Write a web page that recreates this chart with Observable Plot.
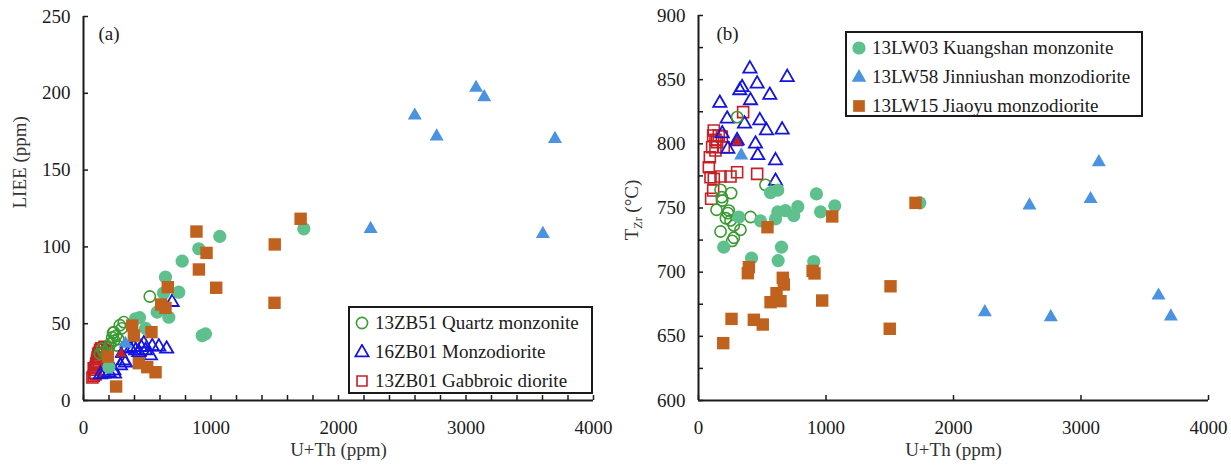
<!DOCTYPE html>
<html><head><meta charset="utf-8">
<script src="https://cdn.jsdelivr.net/npm/d3@7"></script>
<script src="https://cdn.jsdelivr.net/npm/@observablehq/plot@0.6"></script>
<style>
body{margin:0;background:#fff;}
#wrap{position:relative;width:1231px;height:468px;display:flex;}
.legend{position:absolute;border:2px solid #1a1a1a;background:#fff;font-family:"Liberation Serif","Times New Roman",serif;font-size:19px;color:#1a1a1a;box-sizing:border-box;}
.legend .row{display:flex;align-items:center;height:29px;white-space:nowrap;}
.legend svg{margin-left:4px;margin-right:5px;flex:none;}
</style></head><body><div id="wrap"></div>
<script>
// ---------- Panel (a): LIEE vs U+Th ----------
const qmA_x = [520, 316, 285, 238, 225, 240, 146, 159, 264, 128, 199, 300, 255, 180, 210, 272, 232];
const qmA_y = [67.7, 51, 49, 44.5, 41, 39, 33.7, 31.4, 35.8, 30.4, 34.7, 47, 42, 30, 37, 40, 44];
const mdA_x = [695, 652, 591, 539, 525, 473, 452, 434, 369, 395, 486, 329, 290, 316, 238, 199, 159, 133, 243, 409];
const mdA_y = [64, 33.6, 35, 35.2, 29.3, 37, 34.7, 31.4, 33.6, 34.7, 32.6, 24.6, 22.8, 26, 19.5, 18.4, 17.4, 16.9, 17.4, 32.6];
const gdA_x = [70, 80, 85, 90, 95, 100, 105, 110, 115, 120, 130, 140, 150, 165, 185, 95, 80, 120];
const gdA_y = [15, 16, 18, 20, 22, 24, 26, 28, 30, 31, 33, 34, 33, 35, 32, 17, 21, 25];
const kmA_x = [1069, 1728, 904, 774, 643, 747, 627, 578, 669, 408, 931, 957, 199, 440, 487];
const kmA_y = [106.8, 111.8, 98.8, 90.7, 80.3, 70.5, 70, 57.5, 54.2, 53.2, 42.3, 43.4, 21.7, 54, 47];
const orA_x = [1703, 886, 1500, 965, 905, 1041, 661, 1498, 609, 643, 382, 395, 533, 191, 434, 500, 565, 256];
const orA_y = [118.3, 110, 101.6, 96.1, 85.3, 73.4, 73.8, 63.6, 62.5, 60.3, 48.8, 42.3, 44.5, 28.6, 24.3, 21.7, 18.4, 9.1];
const jnA_x = [329, 2252, 2598, 2770, 3079, 3143, 3603, 3698];
const jnA_y = [36.9, 111.7, 185.5, 171.9, 203.6, 197.5, 108.5, 170.3];
const rtA_x = [296];
const rtA_y = [30.4];

// ---------- Panel (b): T_Zr vs U+Th ----------
const qmB_x = [303, 525, 173, 256, 141, 186, 238, 251, 408, 329, 173, 277, 264, 277, 230, 183, 215];
const qmB_y = [820.8, 768, 764.2, 761.6, 748.6, 755.8, 748, 740.3, 743, 733, 731.7, 726.8, 724.4, 736.4, 746, 758.4, 742];
const mdB_x = [403, 696, 460, 342, 324, 559, 408, 167, 225, 361, 481, 533, 656, 186, 447, 230, 465, 604, 604, 303];
const mdB_y = [858.5, 851.9, 846.8, 844, 841.6, 838, 833.8, 831.7, 819.5, 815.6, 818.2, 810.4, 811, 808, 800, 796, 791, 787, 771, 802.6];
const gdB_x = [350, 120, 115, 133, 159, 146, 107, 133, 89, 81, 303, 460, 94, 120, 173, 251, 115, 99, 198, 183];
const gdB_y = [824.7, 810.4, 806.5, 803.1, 806.5, 801.3, 797.4, 794.8, 789.6, 781.8, 777.9, 776.6, 774, 772.7, 774.5, 774.5, 763.6, 757.2, 797.4, 805.7];
const kmB_x = [925, 1069, 957, 779, 747, 682, 622, 604, 565, 622, 486, 316, 198, 416, 651, 625, 904, 1736];
const kmB_y = [761, 751.7, 747, 751, 744, 748, 747, 741.5, 762, 764, 740, 743, 719.5, 711, 719.5, 709, 708.3, 754];
const orB_x = [1702, 1049, 541, 395, 387, 895, 910, 661, 669, 612, 565, 643, 1506, 970, 259, 434, 504, 1500, 194];
const orB_y = [754, 743.4, 735, 703.9, 699.2, 701, 699, 695.6, 690.4, 683.6, 676.6, 677.4, 689, 677.9, 663.6, 662.9, 659.2, 655.9, 644.7];
const jnB_x = [335, 2246, 2596, 2763, 3075, 3140, 3608, 3705];
const jnB_y = [791, 668.8, 752, 665, 757, 785.7, 681.8, 665.5];
const rtB_x = [303];
const rtB_y = [801.3];

// ---------- series & ticks ----------
const legendA = ["13ZB51 Quartz monzonite", "16ZB01 Monzodiorite", "13ZB01 Gabbroic diorite"];
const legendB = ["13LW03 Kuangshan monzonite", "13LW58 Jinniushan monzodiorite", "13LW15 Jiaoyu monzodiorite"];
const xTicksA = d3.range(0, 4001, 200);
const xTicksB = [0, 1000, 2000, 3000, 4000];
const yTicksA = [0, 50, 100, 150, 200, 250];
const yTicksB = d3.range(600, 901, 25);

const C = {qm: "#3b9a33", md: "#1414e0", gd: "#c81e22", km: "#5ec18d", jn: "#4b93e0", or: "#c0611d"};
const font = '"Liberation Serif","Times New Roman",serif';
const pts = (xs, ys) => xs.map((x, i) => ({x, y: ys[i]}));

function dots(s) {
  return [
    Plot.dot(pts(s.gd[0], s.gd[1]), {x: "x", y: "y", symbol: "square", r: 6.2, fill: "none", stroke: C.gd, strokeWidth: 1.6}),
    Plot.dot(pts(s.md[0], s.md[1]), {x: "x", y: "y", symbol: "triangle", r: 4.9, fill: "none", stroke: C.md, strokeWidth: 1.8}),
    Plot.dot(pts(s.qm[0], s.qm[1]), {x: "x", y: "y", symbol: "circle", r: 5.6, fill: "none", stroke: C.qm, strokeWidth: 1.6}),
    Plot.dot(pts(s.km[0], s.km[1]), {x: "x", y: "y", symbol: "circle", r: 6.6, fill: C.km}),
    Plot.dot(pts(s.or[0], s.or[1]), {x: "x", y: "y", symbol: "square", r: 7, fill: C.or}),
    Plot.dot(pts(s.jn[0], s.jn[1]), {x: "x", y: "y", symbol: "triangle", r: 5.2, fill: C.jn}),
    Plot.dot(pts(s.rt[0], s.rt[1]), {x: "x", y: "y", symbol: "triangle", r: 4.6, fill: C.gd, stroke: C.md, strokeWidth: 1})
  ];
}

const style = {fontFamily: font, fontSize: "19px", color: "#1a1a1a", background: "transparent", overflow: "visible"};

const plotA = Plot.plot({
  width: 615, height: 468, marginLeft: 83, marginRight: 22, marginTop: 16, marginBottom: 68,
  style,
  x: {domain: [0, 4000]},
  y: {domain: [0, 250]},
  marks: [
    Plot.axisX({ticks: xTicksA, tickSize: -5, tickPadding: 25, tickFormat: d => d % 1000 === 0 ? String(d) : "", label: null, strokeWidth: 1.5}),
    Plot.axisY({ticks: yTicksA, tickSize: -5, tickPadding: 18, tickFormat: d => String(d), label: null, strokeWidth: 1.5}),
    ...dots({qm: [qmA_x, qmA_y], md: [mdA_x, mdA_y], gd: [gdA_x, gdA_y], km: [kmA_x, kmA_y], or: [orA_x, orA_y], jn: [jnA_x, jnA_y], rt: [rtA_x, rtA_y]}),
    Plot.ruleX([0], {strokeWidth: 2, stroke: "#1a1a1a"}),
    Plot.ruleY([0], {strokeWidth: 2, stroke: "#1a1a1a"}),
    Plot.text(["U+Th (ppm)"], {text: d => d, frameAnchor: "bottom", dy: 55, fill: "#333"}),
    Plot.text(["LIEE (ppm)"], {text: d => d, frameAnchor: "left", dx: -64, rotate: -90, fill: "#333"}),
    Plot.text(["(a)"], {text: d => d, frameAnchor: "top-left", dx: 15, dy: 17, textAnchor: "start", lineAnchor: "middle"})
  ]
});

const plotB = Plot.plot({
  width: 616, height: 468, marginLeft: 83, marginRight: 23, marginTop: 15, marginBottom: 68,
  style,
  x: {domain: [0, 4000]},
  y: {domain: [600, 900]},
  marks: [
    Plot.axisX({ticks: xTicksB, tickSize: -5, tickPadding: 25, tickFormat: d => String(d), label: null, strokeWidth: 1.5}),
    Plot.axisY({ticks: yTicksB, tickSize: -5, tickPadding: 18, tickFormat: d => d % 50 === 0 ? String(d) : "", label: null, strokeWidth: 1.5}),
    ...dots({qm: [qmB_x, qmB_y], md: [mdB_x, mdB_y], gd: [gdB_x, gdB_y], km: [kmB_x, kmB_y], or: [orB_x, orB_y], jn: [jnB_x, jnB_y], rt: [rtB_x, rtB_y]}),
    Plot.ruleX([0], {strokeWidth: 2, stroke: "#1a1a1a"}),
    Plot.ruleY([600], {strokeWidth: 2, stroke: "#1a1a1a"}),
    Plot.text(["U+Th (ppm)"], {text: d => d, frameAnchor: "bottom", dy: 55, fill: "#333"}),
    Plot.text(["(b)"], {text: d => d, frameAnchor: "top-left", dx: 18, dy: 18, textAnchor: "start", lineAnchor: "middle"})
  ]
});

// y label with subscript for panel (b)
const tl = d3.select(plotB).append("text")
  .attr("transform", "translate(19,210) rotate(-90)")
  .attr("text-anchor", "middle").attr("dominant-baseline", "middle")
  .attr("fill", "#333").attr("font-family", font).attr("font-size", "19px");
tl.append("tspan").text("T");
tl.append("tspan").attr("font-size", "12px").attr("dy", 5).text("Zr");
tl.append("tspan").attr("dy", -5).text(" (°C)");

const wrap = document.getElementById("wrap");
wrap.appendChild(plotA);
wrap.appendChild(plotB);

// legends
function swatch(svg, kind) {
  const g = d3.select(svg);
  if (kind === "qm") g.append("circle").attr("cx", 8).attr("cy", 8).attr("r", 5.6).attr("fill", "none").attr("stroke", C.qm).attr("stroke-width", 1.6);
  if (kind === "md") g.append("path").attr("transform", "translate(8,8.5)").attr("d", d3.symbol(d3.symbolTriangle, Math.PI * 4.9 * 4.9)()).attr("fill", "none").attr("stroke", C.md).attr("stroke-width", 1.8);
  if (kind === "gd") g.append("path").attr("transform", "translate(8,8)").attr("d", d3.symbol(d3.symbolSquare, Math.PI * 5.6 * 5.6)()).attr("fill", "none").attr("stroke", C.gd).attr("stroke-width", 1.6);
  if (kind === "km") g.append("circle").attr("cx", 8).attr("cy", 8).attr("r", 6.6).attr("fill", C.km);
  if (kind === "jn") g.append("path").attr("transform", "translate(8,8.5)").attr("d", d3.symbol(d3.symbolTriangle, Math.PI * 5.4 * 5.4)()).attr("fill", C.jn);
  if (kind === "or") g.append("path").attr("transform", "translate(8,8)").attr("d", d3.symbol(d3.symbolSquare, Math.PI * 6.6 * 6.6)()).attr("fill", C.or);
}
function legend(names, kinds, left, top, width, height) {
  const div = d3.select(wrap).append("div").attr("class", "legend")
    .style("left", left + "px").style("top", top + "px").style("width", width + "px").style("height", height + "px");
  names.forEach((n, i) => {
    const row = div.append("div").attr("class", "row");
    const s = row.append("svg").attr("width", 16).attr("height", 16);
    swatch(s.node(), kinds[i]);
    row.append("span").text(n);
  });
}
legend(legendA, ["qm", "md", "gd"], 348, 306, 245, 88);
legend(legendB, ["km", "jn", "or"], 845, 31, 298, 86);
</script></body></html>
